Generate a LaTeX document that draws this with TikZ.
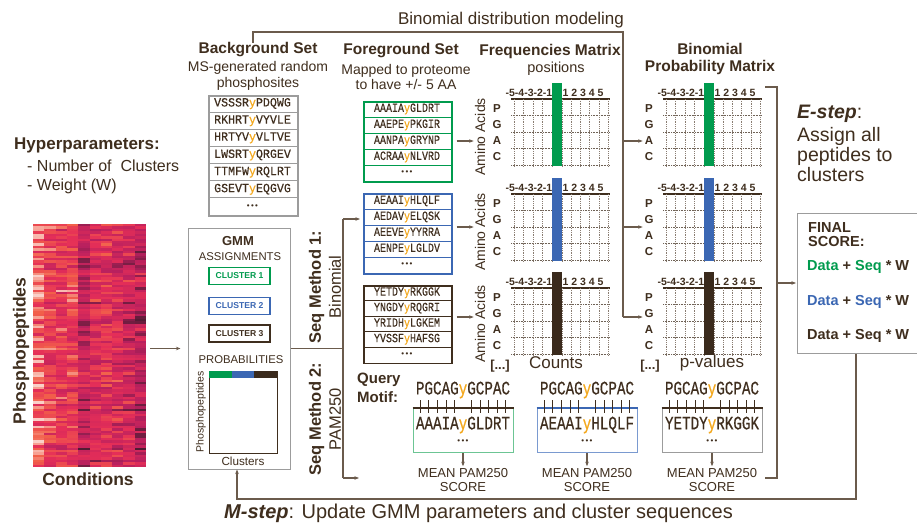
\documentclass[tikz,border=0pt]{standalone}
\usepackage{fontspec}
\setmainfont{Liberation Sans}
\newfontfamily\seqbg{Liberation Mono}[FakeStretch=0.93,FakeBold=0.4]
\newfontfamily\seqfg{Liberation Mono}[FakeStretch=0.8,FakeBold=0.4]
\newfontfamily\seqq{Liberation Mono}[FakeStretch=0.75,FakeBold=0.5]
\usetikzlibrary{arrows.meta}

% palette
\definecolor{tdark}{HTML}{3F2E1E}
\definecolor{lineC}{HTML}{6B5B4C}
\definecolor{tgreen}{HTML}{009B4E}
\definecolor{tblue}{HTML}{3B67B3}
\definecolor{tyel}{HTML}{F4A81D}
\definecolor{boxgray}{HTML}{9C9C9C}
\definecolor{barDark}{HTML}{3A2A1C}
\definecolor{gridC}{HTML}{8A7D72}
\definecolor{lgreen}{HTML}{6CC594}
\definecolor{lblue}{HTML}{7A9AD0}
% heatmap ramp
\definecolor{hmDark}{HTML}{3B1B2A}
\definecolor{hmMag}{HTML}{B8205E}
\definecolor{hmRed}{HTML}{E52E58}
\definecolor{hmOra}{HTML}{F2604A}
\definecolor{hmLight}{HTML}{FAD0C8}

\newcommand\fsz[2]{\fontsize{#1}{#2}\selectfont}
\newcommand\ty{{\color{tyel}y}}

% value in [0,1] -> colour hmc
\newcommand\hmcolor[1]{%
  \ifdim#1pt<0.28pt \pgfmathsetmacro\hmp{#1/0.28*100}\colorlet{hmc}{hmMag!\hmp!hmDark}%
  \else\ifdim#1pt<0.58pt \pgfmathsetmacro\hmp{(#1-0.28)/0.3*100}\colorlet{hmc}{hmRed!\hmp!hmMag}%
  \else\ifdim#1pt<0.8pt \pgfmathsetmacro\hmp{(#1-0.58)/0.22*100}\colorlet{hmc}{hmOra!\hmp!hmRed}%
  \else \pgfmathsetmacro\hmp{(#1-0.8)/0.2*100}\colorlet{hmc}{hmLight!\hmp!hmOra}%
  \fi\fi\fi}

% foreground peptide list: name, top y, colour, row height, rows
\newcommand\fgbox[5]{%
  \node[fgframe, draw=#3, anchor=north west, minimum width=88, minimum height=5*#4] (#1) at (363,#2) {};
  \foreach \pre/\post [count=\i] in {#5}{
    \node[fgseq] (#1-\i) at (407,{#2+#4*(\i-0.5)}) {\pre\ty\post};
    \draw[draw=#3, line width=0.9pt] (363,{#2+#4*\i}) -- (451,{#2+#4*\i});
  }
  \node[dots] (#1-dots) at (407,{#2+#4*4.5}) {•\,•\,•};
}

% PAM250 alignment: name, centre x, frame colour, top line colour, prefix, suffix
\newcommand\motif[6]{%
  \node[qseq] (#1q) at (#2,390) {PGCAG\ty GCPAC};
  \node[draw=#3, line width=1pt, minimum width=100, minimum height=44, anchor=north] (#1b) at (#2,408) {};
  \draw[draw=#4, line width=1.1pt] (#1b.north west) -- (#1b.north east);
  \foreach \k in {-5,-4,-3,-2,-1,1,2,3,4,5} \draw[tickst] ({#2+\k*8.55},400) -- ({#2+\k*8.55},413);
  \node[qseq] (#1s) at (#2,425) {#5\ty #6};
  \node[dots] (#1d) at (#2,442) {•\,•\,•};
  \node[scorelbl] (#1m) at (#2,480) {MEAN PAM250\\SCORE};
  \draw[arr, shorten >=2pt] (#1b.south) -- (#1m.north);
}

% position x amino-acid grid with the phosphosite column highlighted
\tikzset{
  pics/aamat/.style={code={
    \foreach \yy in {16.5,33,49.5,66} \draw[gridh] (-3,\yy) -- (96,\yy);
    \draw[gridtop] (-3,0) -- (96,0);
    \foreach \xx in {0,9.5,19,28.5,38,48,57.2,66.4,75.6,84.8,94} \draw[gridv] (\xx,0) -- (\xx,67);
    \fill[#1] (38,-16) rectangle (48,67);
    \node[collbl,anchor=east] (-neg) at (38.5,-6) {-5-4-3-2-1};
    \node[collbl,anchor=west] (-pos) at (48.5,-6) {1 2 3 4 5};
    \foreach \aa [count=\k] in {P,G,A,C} \node[rowlbl] (-\aa) at (-17,{\k*16-6}) {\aa};
  }}
}

\begin{document}
\begin{tikzpicture}[x=1pt,y=-1pt,
  every node/.style={text=tdark, inner sep=0pt},
  conn/.style={draw=lineC, line width=1.1pt},
  arr/.style={conn, -{Stealth[length=4.5pt,width=3.5pt]}},
  ttl/.style={font=\bfseries\fsz{15.5}{17}},
  sub/.style={font=\fsz{14}{15.5}, align=center},
  gridh/.style={draw=tdark!75, line width=0.6pt, dash pattern=on 1pt off 0.6pt},
  gridtop/.style={draw=tdark, line width=1.2pt},
  gridv/.style={draw=gridC, line width=0.5pt, dash pattern=on 1pt off 0.8pt},
  collbl/.style={font=\bfseries\fsz{10.5}{12}},
  rowlbl/.style={font=\bfseries\fsz{11.5}{13}},
  aalbl/.style={rotate=90, font=\fsz{14}{16}},
  bgframe/.style={draw=boxgray, line width=1.6pt},
  bgsep/.style={draw=boxgray, line width=1.2pt},
  fgframe/.style={line width=1.7pt},
  bgseq/.style={font=\seqbg\fsz{12.5}{14}},
  fgseq/.style={font=\seqfg\fsz{12.5}{14}},
  qseq/.style={font=\seqq\fsz{19}{20}},
  dots/.style={font=\fsz{8}{8}},
  clbox/.style={line width=1.6pt, minimum width=61, minimum height=17, font=\bfseries\fsz{8.6}{10}},
  tickst/.style={draw=tdark, line width=0.8pt},
  scorelbl/.style={font=\fsz{13}{14}, align=center},
  graybox/.style={draw=boxgray, line width=1pt},
]
\useasboundingbox (0,0) rectangle (917,522);
\fill[white] (0,0) rectangle (917,522);

% ---------------- data heatmap ----------------
\pgfmathsetseed{42}
\foreach \hr in {0,...,99}{
  \pgfmathsetmacro\hrow{0.14*rand}
  \foreach \hc/\hb in {0/0.28,1/0.12,2/0.09,3/0.1,4/-0.17,5/-0.03,6/0.02,7/-0.03,8/-0.1,9/-0.16}{
    \pgfmathsetmacro\hv{max(0,min(1,0.52+\hb+\hrow+0.22*rand))}
    \hmcolor{\hv}
    \fill[hmc] ({33+\hc*11.3},{224+\hr*2.43}) rectangle ++(11.4,2.5);
  }
}
\node[minimum width=113, minimum height=243, anchor=north west] (heat) at (33,224) {};
\node[rotate=90, font=\bfseries\fsz{17.5}{20}] (pp) at (21,351) {Phosphopeptides};
\node[font=\bfseries\fsz{17.5}{20}] (cond) at (88,479) {Conditions};

% ---------------- hyperparameters ----------------
\node[anchor=west, font=\bfseries\fsz{17}{19}] (hyp) at (14,145) {Hyperparameters:};
\node[anchor=west, font=\fsz{16}{18}] (hyp1) at (27,166) {- Number of~ Clusters};
\node[anchor=west, font=\fsz{16}{18}] (hyp2) at (27,186) {- Weight (W)};

% ---------------- GMM ----------------
\node[graybox, minimum width=102, minimum height=241] (gmm) at (239,348.5) {};
\node[font=\bfseries\fsz{13}{15}] (gmmT) at (238,241) {GMM};
\node[font=\fsz{11.3}{13}] (asg) at (240,257) {ASSIGNMENTS};
\node[clbox, draw=tgreen, text=tgreen] (cl1) at (239.5,276) {CLUSTER 1};
\node[clbox, draw=tblue, text=tblue] (cl2) at (239.5,306) {CLUSTER 2};
\node[clbox, draw=tdark] (cl3) at (239.5,333.5) {CLUSTER 3};
\node[font=\fsz{11.3}{13}] (prob) at (241,360) {PROBABILITIES};
\node[draw=tdark, line width=1pt, minimum width=68, minimum height=82, anchor=north west] (pmat) at (209,371) {};
\fill[tgreen] (209,371) rectangle (231.7,378);
\fill[tblue] (231.7,371) rectangle (254.3,378);
\fill[barDark] (254.3,371) rectangle (277,378);
\node[rotate=90, font=\fsz{10.5}{12}] (ppl) at (201,412) {Phosphopeptides};
\node[font=\fsz{11.7}{13}] (clu) at (243,461) {Clusters};
\draw[arr, shorten <=4pt, shorten >=7pt] (gmm.west -| heat.east) -- (gmm.west);

% ---------------- sequence methods ----------------
\node[rotate=90, align=center, font=\fsz{16.5}{20}] (sm1) at (325,287) {\textbf{Seq Method 1:}\\Binomial};
\node[rotate=90, align=center, font=\fsz{16.5}{20}] (sm2) at (325,419) {\textbf{Seq Method 2:}\\PAM250};

% ---------------- background set ----------------
\node[ttl] (bgT) at (258,50) {Background Set};
\node[sub] (bgS) at (258,76) {MS-generated random\\phosphosites};
\node[bgframe, anchor=north west, minimum width=89, minimum height=120] (bg) at (208,95) {};
\foreach \pre/\post [count=\i] in {VSSSR/PDQWG, RKHRT/VYVLE, HRTYV/VLTVE, LWSRT/QRGEV, TTMFW/RQLRT, GSEVT/EQGVG}{
  \node[bgseq] (bg-\i) at (252.5,{95+17.14*(\i-0.5)}) {\pre\ty\post};
  \draw[bgsep] (208,{95+17.14*\i}) -- (297,{95+17.14*\i});
}
\node[dots] (bg-dots) at (252.5,{95+17.14*6.5}) {•\,•\,•};

% ---------------- foreground sets ----------------
\node[ttl] (fgT) at (401,51) {Foreground Set};
\node[sub] (fgS) at (406,77) {Mapped to proteome\\to have +/- 5 AA};
\fgbox{fg1}{101}{tgreen}{16}{AAAIA/GLDRT, AAEPE/PKGIR, AANPA/GRYNP, ACRAA/NLVRD}
\fgbox{fg2}{193}{tblue}{16}{AEAAI/HLQLF, AEDAV/ELQSK, AEEVE/YYRRA, AENPE/LGLDV}
\fgbox{fg3}{285}{tdark}{15.5}{YETDY/RKGGK, YNGDY/RQGRI, YRIDH/LGKEM, YVSSF/HAFSG}

% ---------------- frequency matrices ----------------
\node[ttl] (fmT) at (550,51) {Frequencies Matrix};
\node[font=\fsz{14.5}{16}] (fmS) at (556,69) {positions};
\pic (fm1) at (514,99) {aamat=tgreen};
\pic (fm2) at (514,194) {aamat=tblue};
\pic (fm3) at (514,288) {aamat=barDark};
\node[aalbl] (aa1) at (480,137) {Amino Acids};
\node[aalbl] (aa2) at (480,232) {Amino Acids};
\node[aalbl] (aa3) at (480,324) {Amino Acids};
\node[font=\bfseries\fsz{13}{15}] (fmMore) at (500,366) {[...]};
\node[font=\fsz{17}{19}] (counts) at (556,363) {Counts};

% ---------------- binomial probability matrices ----------------
\node[ttl, align=center] (bmT) at (710,58.5) {Binomial\\Probability Matrix};
\pic (bm1) at (666,99) {aamat=tgreen};
\pic (bm2) at (666,194) {aamat=tblue};
\pic (bm3) at (666,288) {aamat=barDark};
\node[font=\bfseries\fsz{13}{15}] (bmMore) at (650,366) {[...]};
\node[font=\fsz{17}{19}] (pvals) at (712,363) {p-values};

% ---------------- binomial modelling bracket ----------------
\node[font=\fsz{17}{19}] (bdT) at (511,20) {Binomial distribution modeling};
\coordinate (bdL) at (253,32);
\coordinate (bdR) at (623,32);
\coordinate (bd1) at (623,141);
\coordinate (bd2) at (623,227);
\coordinate (bd3) at (623,317);
\draw[conn] (bgT.north -| bdL) -- (bdL) -- (bdR) -- (bd3);
\draw[arr, shorten >=2pt] (bd1) -- (bd1 -| bm1-A.west);
\draw[arr, shorten >=2pt] (bd2) -- (bd2 -| bm2-A.west);
\draw[arr, shorten >=2pt] (bd3) -- (bd3 -| bm3-A.west);

% foreground sets feed the frequency matrices
\draw[arr, shorten <=4pt, shorten >=1pt] (fg1.east |- bd1) -- (aa1.north |- bd1);
\draw[arr, shorten <=4pt, shorten >=1pt] (fg2.east |- bd2) -- (aa2.north |- bd2);
\draw[arr, shorten <=4pt, shorten >=1pt] (fg3.east |- bd3) -- (aa3.north |- bd3);

% GMM output splits to both sequence methods
\coordinate (trT) at (343,219);
\coordinate (trB) at (343,478);
\coordinate (pamIn) at (359,478);
\draw[conn] (gmm.east) -- (gmm.east -| trT);
\draw[conn] (trT) -- (trB);
\draw[arr, shorten >=3pt] (trT) -- (trT -| fg2.west);
\draw[arr] (trB) -- (pamIn);

% ---------------- PAM250 alignment ----------------
\node[anchor=west, align=left, font=\bfseries\fsz{15}{19}] (qm) at (357,388) {Query\\Motif:};
\motif{m1}{463}{lgreen}{tdark}{AAAIA}{GLDRT}
\motif{m2}{587}{lblue}{tblue}{AEAAI}{HLQLF}
\motif{m3}{712}{boxgray}{tdark}{YETDY}{RKGGK}

% ---------------- E-step ----------------
\node[anchor=west, font=\fsz{19.5}{21}] (estep) at (797,114) {\textbf{\textit{E-step}}:};
\node[anchor=north west, align=left, font=\fsz{19.5}{20}] (esub) at (797,127) {Assign all\\peptides to\\clusters};
\node[graybox, anchor=north west, minimum width=135, minimum height=140] (fs) at (797,213) {};
\node[anchor=north west, align=left, font=\bfseries\fsz{14.5}{14}] (fsT) at (808,222) {FINAL\\SCORE:};
\node[anchor=west, font=\bfseries\fsz{14.5}{16}] (fs1) at (807,267) {\textcolor{tgreen}{Data} + \textcolor{tgreen}{Seq} * W};
\node[anchor=west, font=\bfseries\fsz{14.5}{16}] (fs2) at (807,302) {\textcolor{tblue}{Data} + \textcolor{tblue}{Seq} * W};
\node[anchor=west, font=\bfseries\fsz{14.5}{16}] (fs3) at (807,336) {Data + Seq * W};

% scores gathered into the final score
\coordinate (rbTs) at (765,87);
\coordinate (rbT) at (777,87);
\coordinate (rbB) at (777,478);
\coordinate (rbBs) at (765,478);
\coordinate (rbM) at (777,283);
\draw[conn] (rbTs) -- (rbT) -- (rbB) -- (rbBs);
\draw[arr, shorten >=1pt] (rbM) -- (rbM -| fs.west);

% ---------------- M-step feedback ----------------
\coordinate (mR) at (856,499);
\coordinate (mL) at (237,499);
\draw[arr] (fs.south -| mR) -- (mR) -- (mL) -- (gmm.south -| mL);
\node[anchor=west, font=\fsz{20}{22}] (mstep) at (224,513) {\textbf{\textit{M-step}}: Update GMM parameters and cluster sequences};
\end{tikzpicture}
\end{document}
